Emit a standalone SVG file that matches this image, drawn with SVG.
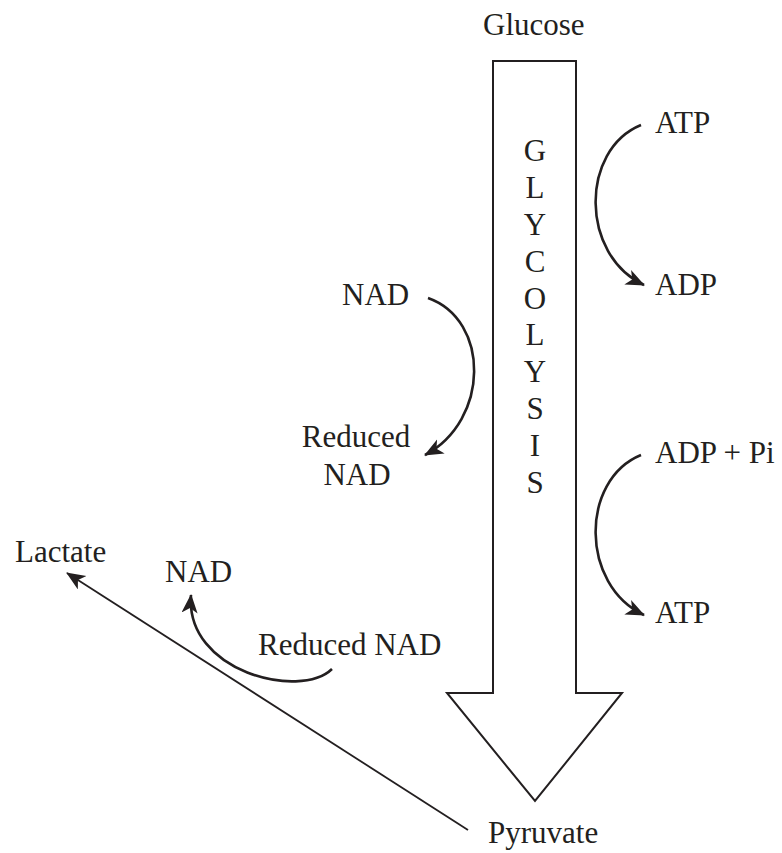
<svg xmlns="http://www.w3.org/2000/svg" width="782" height="853" viewBox="0 0 782 853">
<defs>
<style>
text{font-family:"Liberation Serif","Times New Roman",serif;font-size:31px;fill:#231f20}
.c{fill:none;stroke:#231f20;stroke-width:2.6}
.l{fill:none;stroke:#231f20;stroke-width:1.8}
.m{text-anchor:middle}
</style>
<marker id="ah" markerUnits="userSpaceOnUse" markerWidth="22" markerHeight="18" refX="18" refY="8" orient="auto" viewBox="0 0 22 18">
<path d="M0,0 L19,8 L0,16 L5,8 z" fill="#231f20"/>
</marker>
</defs>
<rect width="782" height="853" fill="#fff"/>
<g id="glycolysis">
<path d="M493,61 L576,61 L576,693 L622,693 L535,801 L447,693 L493,693 Z" fill="#fff" stroke="#231f20" stroke-width="2"/>
<text class="m" x="535" y="161">G</text>
<text class="m" x="535" y="198">L</text>
<text class="m" x="535" y="235">Y</text>
<text class="m" x="535" y="272">C</text>
<text class="m" x="535" y="309">O</text>
<text class="m" x="535" y="345">L</text>
<text class="m" x="535" y="382">Y</text>
<text class="m" x="535" y="419">S</text>
<text class="m" x="535" y="456">I</text>
<text class="m" x="535" y="493">S</text>
</g>
<g id="glucose"><text x="483" y="35">Glucose</text></g>
<g id="pyruvate"><text x="488" y="843">Pyruvate</text></g>
<g id="atp1"><text x="655" y="133">ATP</text></g>
<g id="adp1"><text x="655" y="295">ADP</text></g>
<g id="adppi"><text x="655" y="463">ADP + Pi</text></g>
<g id="atp2"><text x="655" y="623">ATP</text></g>
<g id="nad1"><text x="342" y="305">NAD</text></g>
<g id="rnad1"><text class="m" x="356" y="447">Reduced</text><text class="m" x="357" y="485">NAD</text></g>
<g id="lactate"><text x="15" y="562">Lactate</text></g>
<g id="nad2"><text x="165" y="582">NAD</text></g>
<g id="rnad2"><text x="258" y="655">Reduced NAD</text></g>
<g id="connectors">
<path class="c" d="M641,125 C580,150 580,255 644,285" marker-end="url(#ah)"/>
<path class="c" d="M641,455 C580,480 580,585 644,615" marker-end="url(#ah)"/>
<path class="c" d="M428,298 C490,320 490,420 425,455" marker-end="url(#ah)"/>
<path class="c" d="M332,669 C300,700 185,672 191,595" marker-end="url(#ah)"/>
<path class="l" d="M468,830 L67,573" marker-end="url(#ah)"/>
</g>
</svg>
